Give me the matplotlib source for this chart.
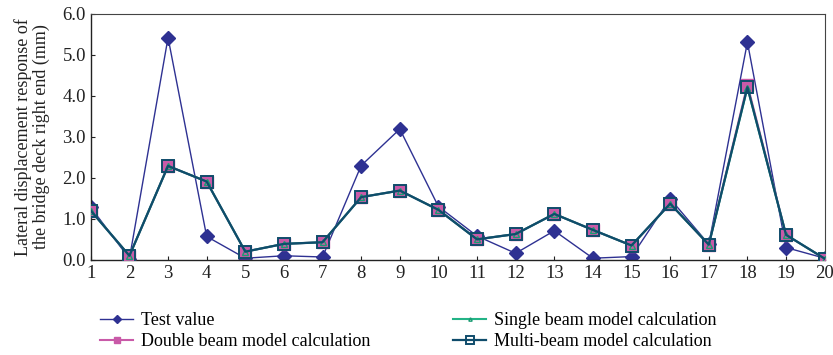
import matplotlib
matplotlib.use("Agg")
import matplotlib.pyplot as plt

plt.rcParams['font.family'] = ['Liberation Serif', 'DejaVu Serif']
plt.rcParams['font.size'] = 13.5

positions = list(range(1, 21))
test_value = [1.28, 0.03, 5.42, 0.57, 0.04, 0.10, 0.07, 2.30, 3.19, 1.30,
              0.58, 0.16, 0.71, 0.04, 0.08, 1.49, 0.38, 5.31, 0.30, 0.04]
double_beam = [1.20, 0.10, 2.29, 1.91, 0.20, 0.39, 0.43, 1.53, 1.69, 1.22,
               0.50, 0.63, 1.12, 0.73, 0.35, 1.37, 0.37, 4.27, 0.61, 0.03]
single_beam = [1.20, 0.10, 2.29, 1.91, 0.20, 0.39, 0.43, 1.53, 1.69, 1.22,
               0.50, 0.63, 1.12, 0.73, 0.35, 1.37, 0.37, 4.20, 0.61, 0.03]
multi_beam = [1.20, 0.10, 2.29, 1.91, 0.20, 0.39, 0.43, 1.53, 1.69, 1.22,
              0.50, 0.63, 1.12, 0.73, 0.35, 1.37, 0.37, 4.21, 0.61, 0.03]
y_ticks = [0.0, 1.0, 2.0, 3.0, 4.0, 5.0, 6.0]

fig = plt.figure(figsize=(8.33, 3.55), dpi=100)
ax = fig.add_axes([0.109, 0.268, 0.881, 0.693])

ax.plot(positions, test_value, color='#2e3192', linewidth=1.0,
        marker='D', markersize=7.5, label='Test value', zorder=2)
ax.plot(positions, double_beam, color='#c95aa8', linewidth=1.5,
        marker='s', markersize=8, markeredgecolor='#c95aa8',
        label='Double beam model calculation', zorder=3)
ax.plot(positions, single_beam, color='#23b386', linewidth=1.5,
        marker='^', markersize=4, markerfacecolor='none',
        markeredgecolor='#1a9c73', label='Single beam model calculation', zorder=4)
ax.plot(positions, multi_beam, color='#0f4c6b', linewidth=1.6,
        marker='s', markersize=9, markerfacecolor='none',
        markeredgecolor='#0f4c6b', markeredgewidth=1.4,
        label='Multi-beam model calculation', zorder=5)

ax.set_xlim(1, 20)
ax.set_ylim(0, 6)
ax.set_xticks(positions)
ax.set_yticks(y_ticks)
ax.set_yticklabels([f"{v:.1f}" for v in y_ticks])
ax.tick_params(direction='in', length=3, width=0.8, labelsize=13.5, colors='#222222')
ax.tick_params(axis='x', pad=4)
for side in ['left', 'bottom']:
    ax.spines[side].set_linewidth(1.0)
    ax.spines[side].set_color('#222222')
for side in ['top', 'right']:
    ax.spines[side].set_linewidth(0.8)
    ax.spines[side].set_color('#444444')

ax.set_ylabel("Lateral displacement response of\nthe bridge deck right end (mm)",
              fontsize=13, color='#222222', labelpad=9, linespacing=1.05)

handles, labels = ax.get_legend_handles_labels()
fig.legend(handles, labels, ncol=2, loc='upper left',
           bbox_to_anchor=(0.101, 0.166), frameon=False, fontsize=13,
           columnspacing=4.6, handlelength=1.8, handletextpad=0.45,
           labelspacing=0.2, markerscale=0.6)

fig.savefig("out.png", dpi=100)
